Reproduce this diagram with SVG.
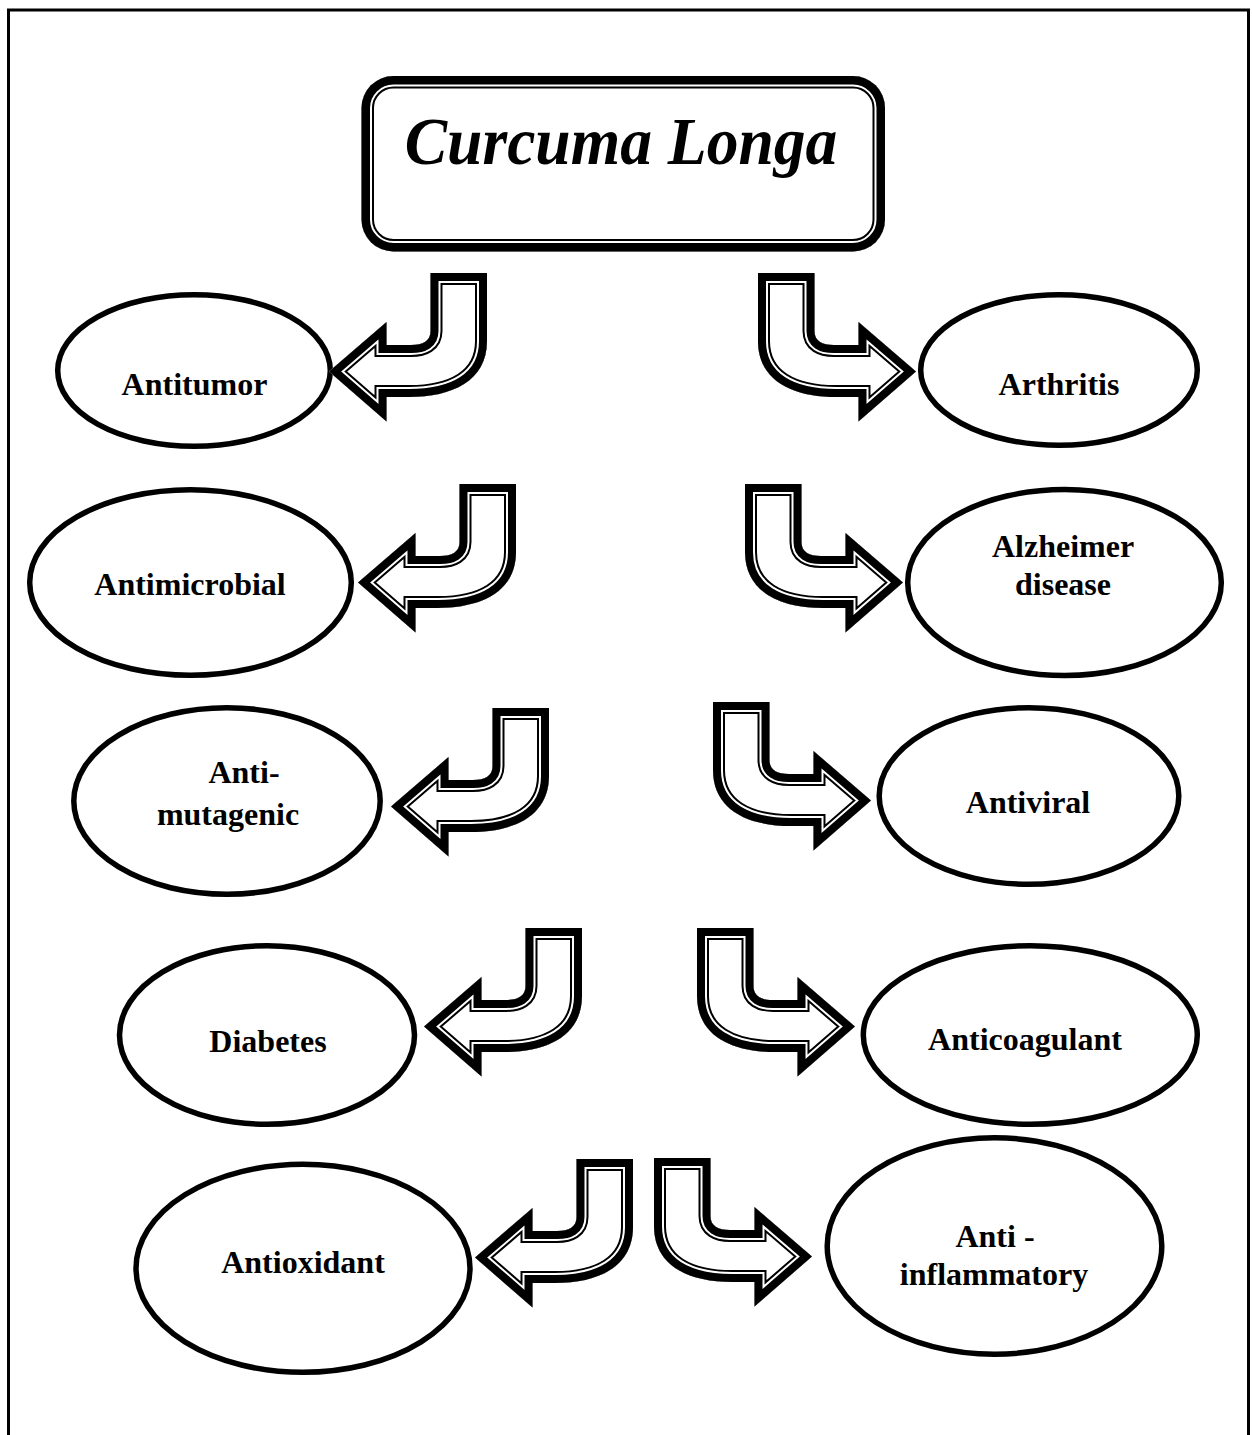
<svg xmlns="http://www.w3.org/2000/svg" xmlns:xlink="http://www.w3.org/1999/xlink" width="1252" height="1435" viewBox="0 0 1252 1435">
<style>
.bg{fill:#fff}
.frame{fill:none;stroke:#000;stroke-width:3}
.node ellipse{fill:#fff;stroke:#000;stroke-width:5.5}
.lbl{font-family:"Liberation Serif","Times New Roman",serif;font-weight:bold;font-size:32px;text-anchor:middle;fill:#000}
.title{font-size:68px;font-style:italic}
.af{fill:#fff;stroke:none}
.k1{fill:none;stroke:#000;stroke-width:24;stroke-linejoin:miter}
.k2{fill:none;stroke:#fff;stroke-width:20;stroke-linejoin:miter}
.k3{fill:none;stroke:#000;stroke-width:16;stroke-linejoin:miter}
.b1{fill:none;stroke:#000;stroke-width:25}
.b2{fill:none;stroke:#fff;stroke-width:21}
.b3{fill:none;stroke:#000;stroke-width:17}
</style>
<defs>
<path id="arrowL" d="M 0 0 L 0 68 C 0 108 -35 124 -78 124 L -100.5 124 L -100.5 148.5 L -158 98.5 L -100.5 49 L -100.5 72 L -76 72 C -64 72 -56.5 68 -56.5 58 L -56.5 0 Z"/>
<clipPath id="clipArrow"><use xlink:href="#arrowL" href="#arrowL"/></clipPath>
<rect id="titleRect" x="361.5" y="76" width="523.5" height="175.5" rx="32" ry="32"/>
<clipPath id="clipTitle"><use xlink:href="#titleRect" href="#titleRect"/></clipPath>
</defs>
<rect class="bg" x="0" y="0" width="1252" height="1435"/>
<rect class="frame" x="8.5" y="10" width="1240" height="1450"/>

<g id="node-title" class="node">
<use xlink:href="#titleRect" href="#titleRect" class="af"/>
<g clip-path="url(#clipTitle)">
<use xlink:href="#titleRect" href="#titleRect" class="b1"/>
<use xlink:href="#titleRect" href="#titleRect" class="b2"/>
<use xlink:href="#titleRect" href="#titleRect" class="b3"/>
</g>
<text class="lbl title" transform="translate(621,164) scale(0.935,1)" x="0" y="0">Curcuma Longa</text>
</g>

<g id="node-antitumor" class="node"><ellipse cx="194" cy="370.5" rx="136.3" ry="75.8"/><text class="lbl" x="194.5" y="395">Antitumor</text></g>
<g id="node-arthritis" class="node"><ellipse cx="1059" cy="370" rx="138.3" ry="75.3"/><text class="lbl" x="1059" y="395">Arthritis</text></g>
<g id="node-antimicrobial" class="node"><ellipse cx="190.5" cy="582.5" rx="160.8" ry="92.8"/><text class="lbl" x="190" y="595">Antimicrobial</text></g>
<g id="node-alzheimer" class="node"><ellipse cx="1064.5" cy="582.5" rx="156.8" ry="93"/><text class="lbl" x="1063" y="557">Alzheimer</text><text class="lbl" x="1063" y="595">disease</text></g>
<g id="node-antimutagenic" class="node"><ellipse cx="227" cy="801" rx="153.2" ry="93.3"/><text class="lbl" x="244" y="783">Anti-</text><text class="lbl" x="228" y="825">mutagenic</text></g>
<g id="node-antiviral" class="node"><ellipse cx="1029" cy="796" rx="149.8" ry="88.3"/><text class="lbl" x="1028" y="813">Antiviral</text></g>
<g id="node-diabetes" class="node"><ellipse cx="267" cy="1035" rx="147.5" ry="89.3"/><text class="lbl" x="268" y="1052">Diabetes</text></g>
<g id="node-anticoagulant" class="node"><ellipse cx="1030.3" cy="1035" rx="167" ry="89.2"/><text class="lbl" x="1025" y="1050">Anticoagulant</text></g>
<g id="node-antioxidant" class="node"><ellipse cx="303" cy="1268.3" rx="167" ry="104"/><text class="lbl" x="303" y="1273">Antioxidant</text></g>
<g id="node-antiinflammatory" class="node"><ellipse cx="994.5" cy="1246" rx="167.3" ry="108.2"/><text class="lbl" x="995" y="1247">Anti -</text><text class="lbl" x="994" y="1285">inflammatory</text></g>

<g id="connectors">
<g id="arrow-antitumor" transform="translate(487,273)"><use xlink:href="#arrowL" href="#arrowL" class="af"/><g clip-path="url(#clipArrow)"><use xlink:href="#arrowL" href="#arrowL" class="k1"/><use xlink:href="#arrowL" href="#arrowL" class="k2"/><use xlink:href="#arrowL" href="#arrowL" class="k3"/></g></g>
<g id="arrow-arthritis" transform="translate(758,273) scale(-1,1)"><use xlink:href="#arrowL" href="#arrowL" class="af"/><g clip-path="url(#clipArrow)"><use xlink:href="#arrowL" href="#arrowL" class="k1"/><use xlink:href="#arrowL" href="#arrowL" class="k2"/><use xlink:href="#arrowL" href="#arrowL" class="k3"/></g></g>
<g id="arrow-antimicrobial" transform="translate(516,484)"><use xlink:href="#arrowL" href="#arrowL" class="af"/><g clip-path="url(#clipArrow)"><use xlink:href="#arrowL" href="#arrowL" class="k1"/><use xlink:href="#arrowL" href="#arrowL" class="k2"/><use xlink:href="#arrowL" href="#arrowL" class="k3"/></g></g>
<g id="arrow-alzheimer" transform="translate(745,484) scale(-1,1)"><use xlink:href="#arrowL" href="#arrowL" class="af"/><g clip-path="url(#clipArrow)"><use xlink:href="#arrowL" href="#arrowL" class="k1"/><use xlink:href="#arrowL" href="#arrowL" class="k2"/><use xlink:href="#arrowL" href="#arrowL" class="k3"/></g></g>
<g id="arrow-antimutagenic" transform="translate(549,708)"><use xlink:href="#arrowL" href="#arrowL" class="af"/><g clip-path="url(#clipArrow)"><use xlink:href="#arrowL" href="#arrowL" class="k1"/><use xlink:href="#arrowL" href="#arrowL" class="k2"/><use xlink:href="#arrowL" href="#arrowL" class="k3"/></g></g>
<g id="arrow-antiviral" transform="translate(713,702) scale(-1,1)"><use xlink:href="#arrowL" href="#arrowL" class="af"/><g clip-path="url(#clipArrow)"><use xlink:href="#arrowL" href="#arrowL" class="k1"/><use xlink:href="#arrowL" href="#arrowL" class="k2"/><use xlink:href="#arrowL" href="#arrowL" class="k3"/></g></g>
<g id="arrow-diabetes" transform="translate(582,928)"><use xlink:href="#arrowL" href="#arrowL" class="af"/><g clip-path="url(#clipArrow)"><use xlink:href="#arrowL" href="#arrowL" class="k1"/><use xlink:href="#arrowL" href="#arrowL" class="k2"/><use xlink:href="#arrowL" href="#arrowL" class="k3"/></g></g>
<g id="arrow-anticoagulant" transform="translate(697,928) scale(-1,1)"><use xlink:href="#arrowL" href="#arrowL" class="af"/><g clip-path="url(#clipArrow)"><use xlink:href="#arrowL" href="#arrowL" class="k1"/><use xlink:href="#arrowL" href="#arrowL" class="k2"/><use xlink:href="#arrowL" href="#arrowL" class="k3"/></g></g>
<g id="arrow-antioxidant" transform="translate(633,1159)"><use xlink:href="#arrowL" href="#arrowL" class="af"/><g clip-path="url(#clipArrow)"><use xlink:href="#arrowL" href="#arrowL" class="k1"/><use xlink:href="#arrowL" href="#arrowL" class="k2"/><use xlink:href="#arrowL" href="#arrowL" class="k3"/></g></g>
<g id="arrow-antiinflammatory" transform="translate(654,1158) scale(-1,1)"><use xlink:href="#arrowL" href="#arrowL" class="af"/><g clip-path="url(#clipArrow)"><use xlink:href="#arrowL" href="#arrowL" class="k1"/><use xlink:href="#arrowL" href="#arrowL" class="k2"/><use xlink:href="#arrowL" href="#arrowL" class="k3"/></g></g>
</g>
</svg>
